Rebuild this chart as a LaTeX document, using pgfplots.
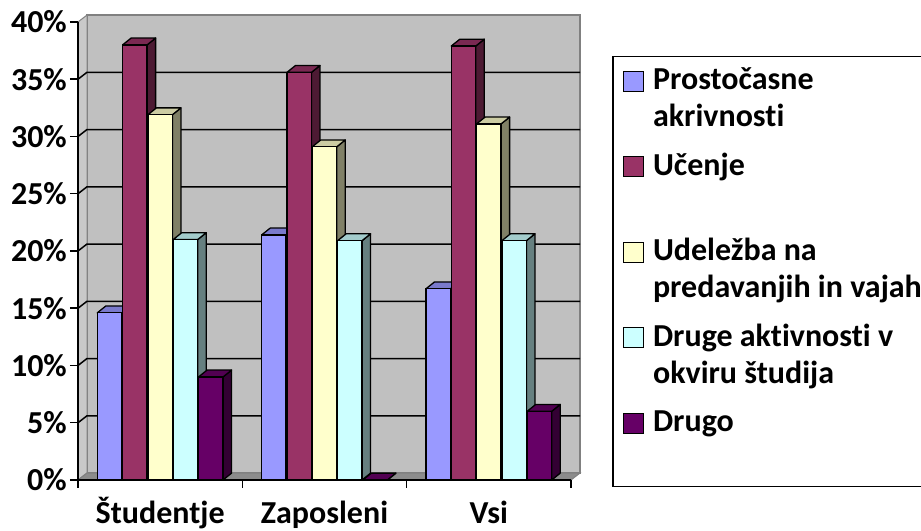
\documentclass[border=0pt]{standalone}
\usepackage{fontspec}
\setmainfont{Carlito}[Ligatures=NoCommon]
\usepackage{pgfplots}
\usepackage{pgfplotstable}
\pgfplotsset{compat=1.18}
\definecolor{cA}{HTML}{9999FF}\definecolor{sA}{HTML}{4D4D80}\definecolor{tA}{HTML}{7A7ACC}
\definecolor{cB}{HTML}{993366}\definecolor{sB}{HTML}{4D1A33}\definecolor{tB}{HTML}{7A2952}
\definecolor{cC}{HTML}{FFFFCC}\definecolor{sC}{HTML}{808066}\definecolor{tC}{HTML}{CCCCA3}
\definecolor{cD}{HTML}{CCFFFF}\definecolor{sD}{HTML}{668080}\definecolor{tD}{HTML}{A3CCCC}
\definecolor{cE}{HTML}{660066}\definecolor{sE}{HTML}{330033}\definecolor{tE}{HTML}{520052}
\definecolor{wall}{HTML}{C0C0C0}\definecolor{wallb}{HTML}{808080}\definecolor{floorc}{HTML}{8C8C8C}

\pgfplotstableread{
x y
0 14.6
1 21.4
2 16.7
}\tA
\pgfplotstableread{
x y
0 38.0
1 35.6
2 37.9
}\tB
\pgfplotstableread{
x y
0 31.9
1 29.1
2 31.1
}\tC
\pgfplotstableread{
x y
0 21.0
1 20.9
2 20.9
}\tD
\pgfplotstableread{
x y
0 9.0
1 0.0
2 6.0
}\tE

\def\hw{0.0745}
\def\bdx{0.052}
\def\bdy{0.6}
\def\lw{1.3pt}

% side and top faces of the bars of one series
\newcommand\threed[4]{%
  \pgfplotsinvokeforeach{0,1,2}{%
    \pgfplotstablegetelem{##1}{y}\of#1%
    \pgfmathsetmacro\vv{\pgfplotsretval}%
    \pgfmathsetmacro\xl{##1+#2-\hw}%
    \pgfmathsetmacro\xr{##1+#2+\hw}%
    \pgfmathsetmacro\xlb{\xl+\bdx}%
    \pgfmathsetmacro\xrb{\xr+\bdx}%
    \pgfmathsetmacro\vb{\vv+\bdy}%
    \edef\tmp{%
      \noexpand\draw[fill=#3,draw=black,line width=\lw,line join=round] (axis cs:\xr,0) -- (axis cs:\xrb,\bdy) -- (axis cs:\xrb,\vb) -- (axis cs:\xr,\vv) -- cycle;
      \noexpand\draw[fill=#4,draw=black,line width=\lw,line join=round] (axis cs:\xl,\vv) -- (axis cs:\xlb,\vb) -- (axis cs:\xrb,\vb) -- (axis cs:\xr,\vv) -- cycle;}%
    \tmp
  }%
}
\pgfplotsset{sqlegend/.style={legend image code/.code={\draw[##1,line width=1.3pt] (0pt,9.5pt) rectangle (20pt,29.5pt);}}}

\begin{document}
\begin{tikzpicture}
\begin{axis}[
  name=ax,
  scale only axis, width=493pt, height=458pt,
  xmin=-0.5, xmax=2.5, ymin=0, ymax=40,
  clip=false,
  axis x line*=bottom, axis y line*=left,
  axis line style={line width=2pt, black, -},
  xtick={-0.5,0.5,1.5,2.5}, xticklabels={},
  extra x ticks={0,1,2},
  extra x tick labels={Študentje,Zaposleni,Vsi},
  extra x tick style={major tick length=0pt},
  ytick={0,5,10,15,20,25,30,35,40},
  yticklabels={0\%,5\%,10\%,15\%,20\%,25\%,30\%,35\%,40\%},
  tick align=outside, major tick length=8pt,
  tick style={line width=1.5pt, black},
  tick label style={font=\fontsize{32}{38}\selectfont\bfseries},
  yticklabel style={inner xsep=3pt},
  xticklabel style={inner sep=0pt, anchor=north, text height=20pt, text depth=6pt, yshift=-23pt},
  axis on top,
  legend cell align=left,
  legend style={at={(1,1)}, anchor=north west, xshift=41pt, yshift=-34pt,
    draw=black, line width=1.5pt, fill=white,
    inner xsep=10pt, inner ysep=7pt, row sep=11.5pt, column sep=5pt,
    font=\fontsize{32}{37}\selectfont\bfseries,
    nodes={inner xsep=4pt, inner ysep=0pt, text depth=}},
]
% walls and floor
\fill[wall, draw=wallb, line width=2pt] (axis cs:-0.445,0.61) rectangle (axis cs:2.555,40.61);
\fill[wall!85!white, draw=wallb, line width=1pt] (axis cs:-0.5,0) -- (axis cs:-0.445,0.61) -- (axis cs:-0.445,40.61) -- (axis cs:-0.5,40) -- cycle;
\fill[floorc, draw=wallb, line width=1pt] (axis cs:-0.5,0) -- (axis cs:2.5,0) -- (axis cs:2.555,0.61) -- (axis cs:-0.445,0.61) -- cycle;
\pgfplotsinvokeforeach{5,10,15,20,25,30,35}{%
  \pgfmathsetmacro\gy{#1+0.61}%
  \edef\tmp{\noexpand\draw[black,line width=1.5pt] (axis cs:-0.5,#1) -- (axis cs:-0.445,\gy) -- (axis cs:2.555,\gy);}\tmp
}

\threed{\tA}{-0.308}{sA}{tA}
\addplot[ybar, bar width=0.149, bar shift=-0.308, fill=cA, draw=black, line width=\lw, sqlegend] table[x=x,y=y]{\tA};
\addlegendentry{\begin{tabular}{@{}l@{}}Prostočasne\\akrivnosti\end{tabular}}

\threed{\tB}{-0.154}{sB}{tB}
\addplot[ybar, bar width=0.149, bar shift=-0.154, fill=cB, draw=black, line width=\lw, sqlegend] table[x=x,y=y]{\tB};
\addlegendentry{\begin{tabular}{@{}l@{}}Učenje\\ \mbox{}\end{tabular}}

\threed{\tC}{0}{sC}{tC}
\addplot[ybar, bar width=0.149, bar shift=0, fill=cC, draw=black, line width=\lw, sqlegend] table[x=x,y=y]{\tC};
\addlegendentry{\begin{tabular}{@{}l@{}}Udeležba na\\predavanjih in vajah\end{tabular}}

\threed{\tD}{0.154}{sD}{tD}
\addplot[ybar, bar width=0.149, bar shift=0.154, fill=cD, draw=black, line width=\lw, sqlegend] table[x=x,y=y]{\tD};
\addlegendentry{\begin{tabular}{@{}l@{}}Druge aktivnosti v\\okviru študija\end{tabular}}

\threed{\tE}{0.308}{sE}{tE}
\addplot[ybar, bar width=0.149, bar shift=0.308, fill=cE, draw=black, line width=\lw, sqlegend] table[x=x,y=y]{\tE};
\addlegendentry{\begin{tabular}{@{}l@{}}Drugo\\ \mbox{}\end{tabular}}
\end{axis}
\pgfresetboundingbox
\path[use as bounding box] ([shift={(-78pt,-51pt)}]ax.south west) rectangle ([shift={(350pt,22pt)}]ax.north east);
\end{tikzpicture}
\end{document}
